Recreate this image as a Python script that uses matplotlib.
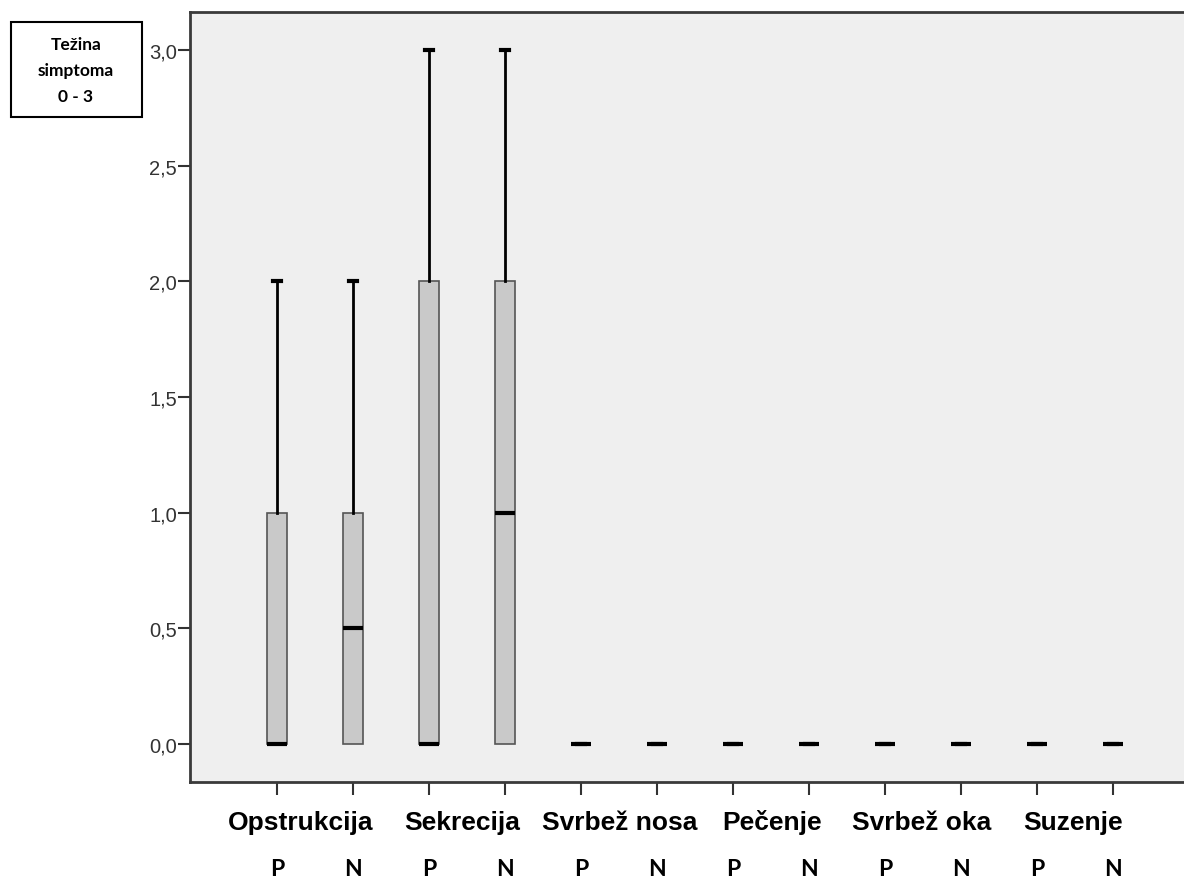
import matplotlib
matplotlib.use("Agg")
import matplotlib.pyplot as plt
from matplotlib.patches import Rectangle

# ---- data ----
categories = ['Opstrukcija', 'Sekrecija', 'Svrbež nosa', 'Pečenje', 'Svrbež oka', 'Suzenje']
groups = ['P', 'N']
whislo = [0, 0, 0, 0, 0, 0, 0, 0, 0, 0, 0, 0]
q1 = [0, 0, 0, 0, 0, 0, 0, 0, 0, 0, 0, 0]
med = [0, 0.5, 0, 1, 0, 0, 0, 0, 0, 0, 0, 0]
q3 = [1, 1, 2, 2, 0, 0, 0, 0, 0, 0, 0, 0]
whishi = [2, 2, 3, 3, 0, 0, 0, 0, 0, 0, 0, 0]
yticks = [0.0, 0.5, 1.0, 1.5, 2.0, 2.5, 3.0]
ytick_labels = ['0,0', '0,5', '1,0', '1,5', '2,0', '2,5', '3,0']
cat_label_x = [0.316, 2.434, 4.513, 6.52, 8.487, 10.47]
title_lines = ['Težina', 'simptoma', '0 - 3']

W, H = 1184, 879
fig = plt.figure(figsize=(W / 100, H / 100), dpi=100)
ax = fig.add_axes([190 / W, 1 - 783 / H, 1.01 - 190 / W, (783 - 13) / H])
ax.set_facecolor('#efefef')

stats = []
for i in range(len(med)):
    stats.append(dict(whislo=whislo[i], q1=q1[i], med=med[i], q3=q3[i],
                      whishi=whishi[i], fliers=[]))
positions = list(range(len(stats)))

res = ax.bxp(stats, positions=positions, widths=0.26, patch_artist=True,
             showfliers=False, capwidths=0.11,
             boxprops=dict(facecolor='#c9c9c9', edgecolor='#555555', linewidth=1.2),
             medianprops=dict(color='black', linewidth=3, solid_capstyle='butt'),
             whiskerprops=dict(color='black', linewidth=2),
             capprops=dict(color='black', linewidth=3))
for j, c in enumerate(res['caps']):
    if j % 2 == 0:
        c.set_visible(False)
for m in res['medians']:
    m.set_zorder(5)

ax.set_xlim((190 - 277) / 76, (W * 1.01 - 277) / 76)
ax.set_ylim(-0.164, 3.164)

ax.set_yticks(yticks)
ax.set_yticklabels(ytick_labels, fontsize=14.5, family='Liberation Sans', color='#333333')
ax.set_xticks(positions)
ax.set_xticklabels([])
ax.tick_params(axis='y', length=8.5, width=1.5, color='#333333', pad=1)
ax.tick_params(axis='x', length=9, width=1.5, color='#333333')

for s in ['left', 'bottom', 'top', 'right']:
    ax.spines[s].set_color('#3a3a3a')
    ax.spines[s].set_linewidth(2)

# category labels
for cx, name in zip(cat_label_x, categories):
    fig.text((277 + 76 * cx) / W, 1 - 830 / H, name, ha='center', va='baseline',
             fontsize=19, fontweight='bold', family='Liberation Sans')

# P / N labels
for i, p in enumerate(positions):
    fig.text((277 + 76 * p) / W, 1 - 876 / H, groups[i % 2], ha='center',
             va='baseline', fontsize=16.5, fontweight='bold', family='Lato')

# title box
fig.patches.append(Rectangle((11 / W, 1 - 118 / H), 131 / W, 95 / H,
                             transform=fig.transFigure, facecolor='white',
                             edgecolor='black', linewidth=1.5))
for k, line in enumerate(title_lines):
    fig.text(76 / W, 1 - (50 + 26 * k) / H, line, ha='center', va='baseline',
             fontsize=12.5, fontweight='bold', family='Lato')

fig.savefig('out.png', dpi=100)
